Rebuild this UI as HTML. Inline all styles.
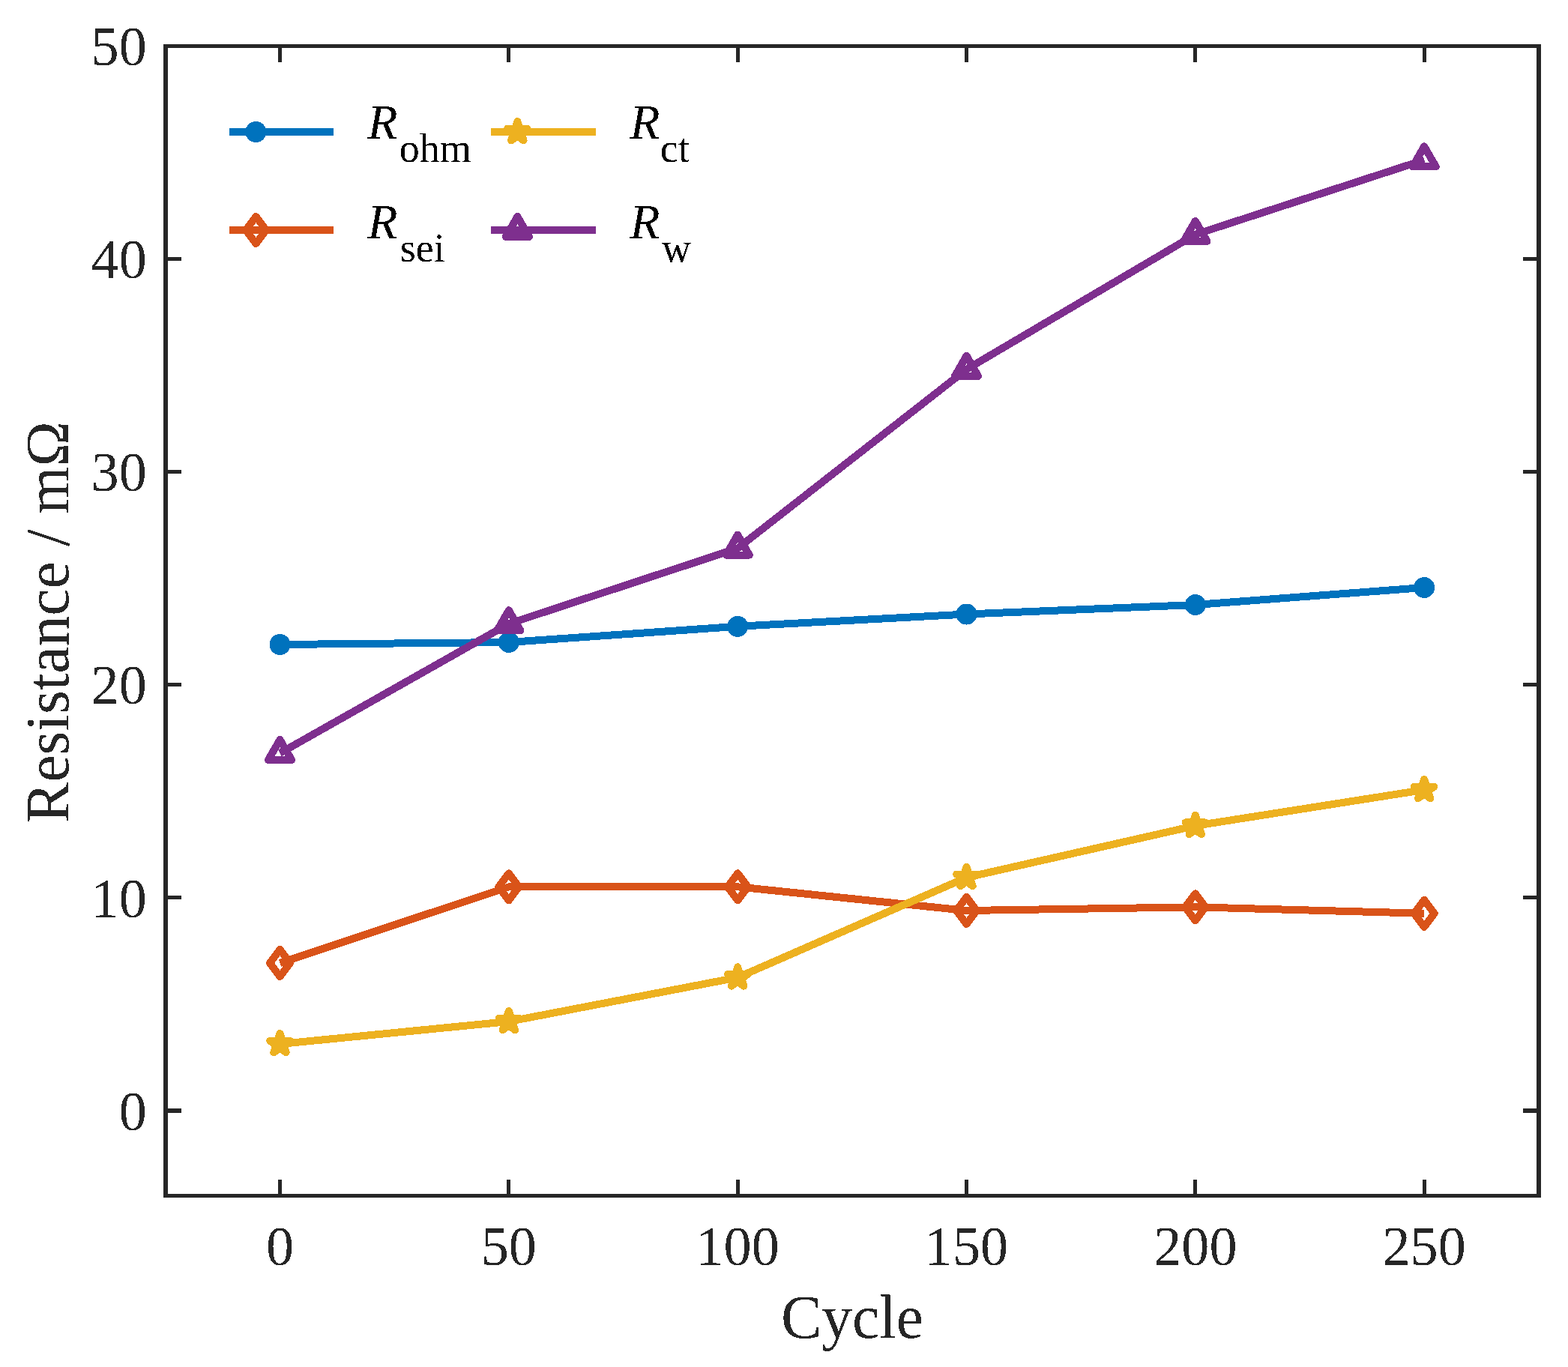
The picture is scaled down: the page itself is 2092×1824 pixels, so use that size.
<!DOCTYPE html>
<html><head><meta charset="utf-8"><title>Resistance vs Cycle</title>
<style>
html,body{margin:0;padding:0;background:#fff;}
body{width:2092px;height:1824px;overflow:hidden;}
svg{display:block;font-family:"Liberation Serif","Times New Roman",serif;}
</style></head><body>
<svg width="2092" height="1824" viewBox="0 0 2092 1824">
<rect width="2092" height="1824" fill="#fff"/>
<defs><filter id="al" x="-5%" y="-5%" width="110%" height="110%" color-interpolation-filters="sRGB"><feComponentTransfer><feFuncA type="discrete" tableValues="0 1"/></feComponentTransfer></filter></defs>
<g shape-rendering="crispEdges">
<path d="M373.50 860.00L678.84 857.00L984.17 835.80L1289.51 819.50L1594.84 807.00L1900.17 784.00" fill="none" stroke="#0072BD" stroke-width="10" stroke-linejoin="round"/>
<circle cx="373.50" cy="860.00" r="14" fill="#0072BD"/>
<circle cx="678.84" cy="857.00" r="14" fill="#0072BD"/>
<circle cx="984.17" cy="835.80" r="14" fill="#0072BD"/>
<circle cx="1289.51" cy="819.50" r="14" fill="#0072BD"/>
<circle cx="1594.84" cy="807.00" r="14" fill="#0072BD"/>
<circle cx="1900.17" cy="784.00" r="14" fill="#0072BD"/>
<path d="M373.50 1285.00L678.84 1183.40L984.17 1183.30L1289.51 1215.00L1594.84 1210.30L1900.17 1218.80" fill="none" stroke="#D95319" stroke-width="10" stroke-linejoin="round"/>
<path d="M373.50 1267.00L387.00 1285.00L373.50 1303.00L360.00 1285.00Z" fill="none" stroke="#D95319" stroke-width="10" stroke-linejoin="round"/>
<path d="M678.84 1165.40L692.34 1183.40L678.84 1201.40L665.34 1183.40Z" fill="none" stroke="#D95319" stroke-width="10" stroke-linejoin="round"/>
<path d="M984.17 1165.30L997.67 1183.30L984.17 1201.30L970.67 1183.30Z" fill="none" stroke="#D95319" stroke-width="10" stroke-linejoin="round"/>
<path d="M1289.51 1197.00L1303.01 1215.00L1289.51 1233.00L1276.01 1215.00Z" fill="none" stroke="#D95319" stroke-width="10" stroke-linejoin="round"/>
<path d="M1594.84 1192.30L1608.34 1210.30L1594.84 1228.30L1581.34 1210.30Z" fill="none" stroke="#D95319" stroke-width="10" stroke-linejoin="round"/>
<path d="M1900.17 1200.80L1913.67 1218.80L1900.17 1236.80L1886.67 1218.80Z" fill="none" stroke="#D95319" stroke-width="10" stroke-linejoin="round"/>
<path d="M373.50 1393.00L678.84 1363.00L984.17 1304.30L1289.51 1170.85L1594.84 1101.80L1900.17 1053.90" fill="none" stroke="#EDB120" stroke-width="10" stroke-linejoin="round"/>
<path d="M373.50 1379.00L376.64 1388.67L386.81 1388.67L378.59 1394.65L381.73 1404.33L373.50 1398.35L365.27 1404.33L368.41 1394.65L360.19 1388.67L370.36 1388.67Z" fill="#EDB120" stroke="#EDB120" stroke-width="10" stroke-linejoin="round"/>
<path d="M678.84 1349.00L681.98 1358.67L692.15 1358.67L683.92 1364.65L687.06 1374.33L678.84 1368.35L670.61 1374.33L673.75 1364.65L665.52 1358.67L675.69 1358.67Z" fill="#EDB120" stroke="#EDB120" stroke-width="10" stroke-linejoin="round"/>
<path d="M984.17 1290.30L987.31 1299.97L997.48 1299.97L989.26 1305.95L992.40 1315.63L984.17 1309.65L975.94 1315.63L979.08 1305.95L970.86 1299.97L981.03 1299.97Z" fill="#EDB120" stroke="#EDB120" stroke-width="10" stroke-linejoin="round"/>
<path d="M1289.51 1156.85L1292.65 1166.52L1302.82 1166.52L1294.59 1172.50L1297.73 1182.18L1289.51 1176.20L1281.28 1182.18L1284.42 1172.50L1276.19 1166.52L1286.36 1166.52Z" fill="#EDB120" stroke="#EDB120" stroke-width="10" stroke-linejoin="round"/>
<path d="M1594.84 1087.80L1597.98 1097.47L1608.15 1097.47L1599.93 1103.45L1603.07 1113.13L1594.84 1107.15L1586.61 1113.13L1589.75 1103.45L1581.53 1097.47L1591.70 1097.47Z" fill="#EDB120" stroke="#EDB120" stroke-width="10" stroke-linejoin="round"/>
<path d="M1900.17 1039.90L1903.32 1049.57L1913.49 1049.57L1905.26 1055.55L1908.40 1065.23L1900.17 1059.25L1891.95 1065.23L1895.09 1055.55L1886.86 1049.57L1897.03 1049.57Z" fill="#EDB120" stroke="#EDB120" stroke-width="10" stroke-linejoin="round"/>
<path d="M373.50 1005.00L678.84 832.30L984.17 731.60L1289.51 492.80L1594.84 312.90L1900.17 213.40" fill="none" stroke="#7E2F8E" stroke-width="10" stroke-linejoin="round"/>
<path d="M373.50 987.00L389.09 1014.00L357.91 1014.00Z" fill="none" stroke="#7E2F8E" stroke-width="10" stroke-linejoin="round"/>
<path d="M678.84 814.30L694.42 841.30L663.25 841.30Z" fill="none" stroke="#7E2F8E" stroke-width="10" stroke-linejoin="round"/>
<path d="M984.17 713.60L999.76 740.60L968.58 740.60Z" fill="none" stroke="#7E2F8E" stroke-width="10" stroke-linejoin="round"/>
<path d="M1289.51 474.80L1305.09 501.80L1273.92 501.80Z" fill="none" stroke="#7E2F8E" stroke-width="10" stroke-linejoin="round"/>
<path d="M1594.84 294.90L1610.43 321.90L1579.25 321.90Z" fill="none" stroke="#7E2F8E" stroke-width="10" stroke-linejoin="round"/>
<path d="M1900.17 195.40L1915.76 222.40L1884.59 222.40Z" fill="none" stroke="#7E2F8E" stroke-width="10" stroke-linejoin="round"/>
</g>
<g shape-rendering="crispEdges">
<rect x="218" y="59" width="1838" height="5" fill="#262626"/>
<rect x="218" y="1593" width="1838" height="5" fill="#262626"/>
<rect x="218" y="59" width="6" height="1539" fill="#262626"/>
<rect x="2050" y="59" width="6" height="1539" fill="#262626"/>
<rect x="371.00" y="1574" width="5" height="19" fill="#262626"/>
<rect x="371.00" y="64" width="5" height="19" fill="#262626"/>
<rect x="676.34" y="1574" width="5" height="19" fill="#262626"/>
<rect x="676.34" y="64" width="5" height="19" fill="#262626"/>
<rect x="981.67" y="1574" width="5" height="19" fill="#262626"/>
<rect x="981.67" y="64" width="5" height="19" fill="#262626"/>
<rect x="1287.01" y="1574" width="5" height="19" fill="#262626"/>
<rect x="1287.01" y="64" width="5" height="19" fill="#262626"/>
<rect x="1592.34" y="1574" width="5" height="19" fill="#262626"/>
<rect x="1592.34" y="64" width="5" height="19" fill="#262626"/>
<rect x="1897.67" y="1574" width="5" height="19" fill="#262626"/>
<rect x="1897.67" y="64" width="5" height="19" fill="#262626"/>
<rect x="224" y="1479.25" width="18" height="5.3" fill="#262626"/>
<rect x="2032" y="1479.25" width="18" height="5.3" fill="#262626"/>
<rect x="224" y="1195.18" width="18" height="5.3" fill="#262626"/>
<rect x="2032" y="1195.18" width="18" height="5.3" fill="#262626"/>
<rect x="224" y="911.11" width="18" height="5.3" fill="#262626"/>
<rect x="2032" y="911.11" width="18" height="5.3" fill="#262626"/>
<rect x="224" y="627.04" width="18" height="5.3" fill="#262626"/>
<rect x="2032" y="627.04" width="18" height="5.3" fill="#262626"/>
<rect x="224" y="342.97" width="18" height="5.3" fill="#262626"/>
<rect x="2032" y="342.97" width="18" height="5.3" fill="#262626"/>
</g>
<g filter="url(#al)">
<text x="373.50" y="1688" font-size="74.2" text-anchor="middle" fill="#262626">0</text>
<text x="678.84" y="1688" font-size="74.2" text-anchor="middle" fill="#262626">50</text>
<text x="984.17" y="1688" font-size="74.2" text-anchor="middle" fill="#262626">100</text>
<text x="1289.51" y="1688" font-size="74.2" text-anchor="middle" fill="#262626">150</text>
<text x="1594.84" y="1688" font-size="74.2" text-anchor="middle" fill="#262626">200</text>
<text x="1900.17" y="1688" font-size="74.2" text-anchor="middle" fill="#262626">250</text>
<text x="195.8" y="1507.60" font-size="74.2" text-anchor="end" fill="#262626">0</text>
<text x="195.8" y="1223.53" font-size="74.2" text-anchor="end" fill="#262626">10</text>
<text x="195.8" y="939.46" font-size="74.2" text-anchor="end" fill="#262626">20</text>
<text x="195.8" y="655.39" font-size="74.2" text-anchor="end" fill="#262626">30</text>
<text x="195.8" y="371.32" font-size="74.2" text-anchor="end" fill="#262626">40</text>
<text x="195.8" y="87.25" font-size="74.2" text-anchor="end" fill="#262626">50</text>
<text x="1137" y="1785" font-size="81.5" text-anchor="middle" fill="#262626">Cycle</text>
<text transform="translate(91.1 829.85) rotate(-90)" x="0" y="0" font-size="81.5" text-anchor="middle" fill="#262626">Resistance / mΩ</text>
</g>
<g shape-rendering="crispEdges">
<rect x="306" y="171" width="139" height="10" fill="#0072BD"/>
<circle cx="341.40" cy="176.00" r="14" fill="#0072BD"/>
<rect x="306" y="302" width="139" height="10" fill="#D95319"/>
<path d="M341.40 289.00L354.90 307.00L341.40 325.00L327.90 307.00Z" fill="none" stroke="#D95319" stroke-width="10" stroke-linejoin="round"/>
<rect x="655" y="171" width="140" height="10" fill="#EDB120"/>
<path d="M690.40 162.00L693.54 171.67L703.71 171.67L695.49 177.65L698.63 187.33L690.40 181.35L682.17 187.33L685.31 177.65L677.09 171.67L687.26 171.67Z" fill="#EDB120" stroke="#EDB120" stroke-width="10" stroke-linejoin="round"/>
<rect x="655" y="302" width="140" height="10" fill="#7E2F8E"/>
<path d="M690.40 289.00L705.99 316.00L674.81 316.00Z" fill="none" stroke="#7E2F8E" stroke-width="10" stroke-linejoin="round"/>
</g>
<g filter="url(#al)">
<text x="490.3" y="184.8" font-size="66" font-style="italic" fill="#000">R</text>
<text x="532.8" y="216.00" font-size="54" fill="#000">ohm</text>
<text x="490.3" y="317.9" font-size="66" font-style="italic" fill="#000">R</text>
<text x="533.7" y="349.10" font-size="54" fill="#000">sei</text>
<text x="840.2" y="184.8" font-size="66" font-style="italic" fill="#000">R</text>
<text x="880.7" y="216.00" font-size="54" fill="#000">ct</text>
<text x="840.2" y="317.9" font-size="66" font-style="italic" fill="#000">R</text>
<text x="883.0" y="349.10" font-size="54" fill="#000">w</text>
</g>
</svg>
</body></html>
